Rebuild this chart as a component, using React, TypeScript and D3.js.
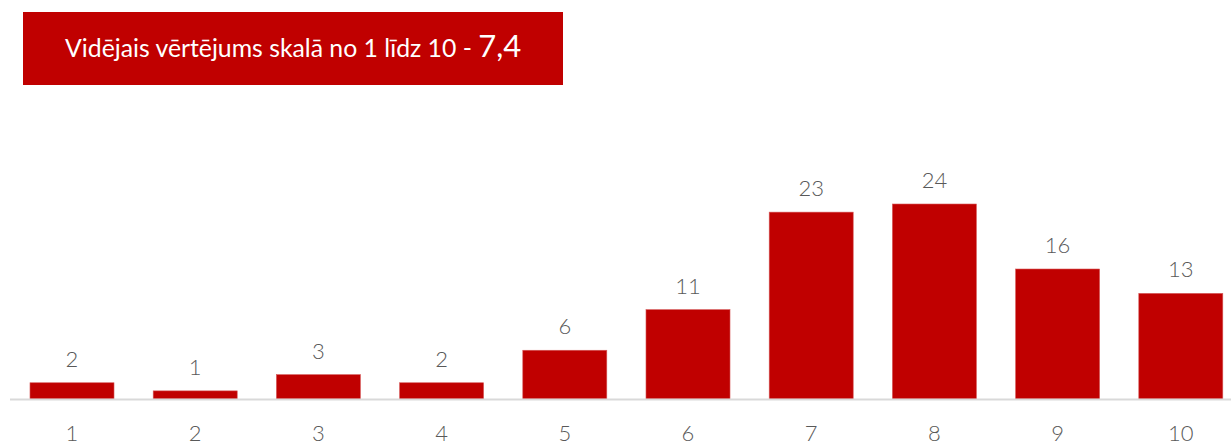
import React from "react";
import * as d3 from "d3";

const categories = ["1", "2", "3", "4", "5", "6", "7", "8", "9", "10"];
const values = [2, 1, 3, 2, 6, 11, 23, 24, 16, 13];
const titleMain = "Vidējais vērtējums skalā no 1 līdz 10 - ";
const titleValue = "7,4";

const W = 1231;
const H = 444;
const baseY = 399;
const FONT = "Lato, 'Open Sans', sans-serif";

export default function App() {
  const x = d3
    .scaleBand<string>()
    .domain(categories)
    .range([10.4, 1242.4])
    .paddingInner(0.318)
    .paddingOuter(0.159);
  const y = d3.scaleLinear().domain([0, 24]).range([baseY, baseY - 195]);

  return (
    <div style={{ position: "absolute", left: 0, top: 0 }}>
      <svg width={W} height={H} style={{ display: "block", background: "#fff" }}>
        <rect x={23} y={12} width={540} height={73} fill="#C00000" />
        <text x={65} y={57} fill="#fff" fontFamily={FONT} fontSize={24.8}>
          <tspan>{titleMain}</tspan>
          <tspan fontSize={31}>{titleValue}</tspan>
        </text>
        {values.map((v, i) => {
          const c = categories[i];
          const bx = x(c)!;
          return (
            <g key={c}>
              <rect
                x={bx}
                y={y(v)}
                width={x.bandwidth()}
                height={baseY - y(v)}
                fill="#C00000"
                stroke="#d65a5a"
                strokeWidth={0.6}
              />
              <text
                x={bx + x.bandwidth() / 2}
                y={y(v) - 16}
                textAnchor="middle"
                fill="#595959"
                fontFamily={FONT}
                fontWeight={300}
                fontSize={22}
              >
                {v}
              </text>
              <text
                x={bx + x.bandwidth() / 2}
                y={441}
                textAnchor="middle"
                fill="#595959"
                fontFamily={FONT}
                fontWeight={300}
                fontSize={22}
              >
                {c}
              </text>
            </g>
          );
        })}
        <line x1={10} x2={W} y1={baseY + 0.5} y2={baseY + 0.5} stroke="#d9d9d9" strokeWidth={2} />
      </svg>
    </div>
  );
}
